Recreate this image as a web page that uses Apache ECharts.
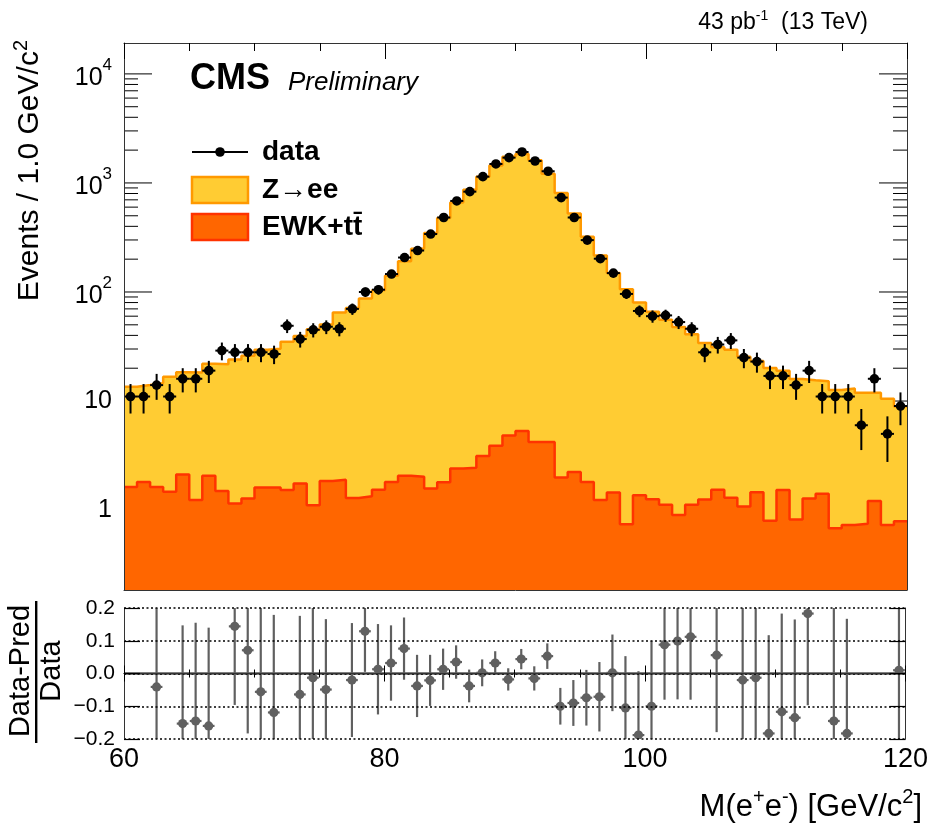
<!DOCTYPE html>
<html><head><meta charset="utf-8">
<script src="https://cdn.jsdelivr.net/npm/echarts@6/dist/echarts.min.js"></script>
<style>html,body{margin:0;padding:0;background:#fff}#c{width:931px;height:825px}</style>
</head><body><div id="c"></div><script>
// ---- data (bin low edges, 1 GeV bins) ----
const binLow = [60,61,62,63,64,65,66,67,68,69,70,71,72,73,74,75,76,77,78,79,80,81,82,83,84,85,86,87,88,89,90,91,92,93,94,95,96,97,98,99,100,101,102,103,104,105,106,107,108,109,110,111,112,113,114,115,116,117,118,119];
const dataCounts = [11,11,14,11,16,16,19,29,28,28,28,27,49,37,45,48,46,70,100,105,146,207,240,340,482,684,832,1142,1493,1705,1923,1589,1280,734,482,299,202,149,96,67,60,61,53,46,28,33,36,25,23,17,17,14,19,11,11,11,6,16,5,9];
const zeePred = [11.87,12.19,12.97,15.23,16.28,17.06,19.94,20.3,22.85,24.72,27.99,28.59,33.47,37.65,44.49,48.55,63.1,70.11,85.66,102.06,139.19,188.94,246.98,345.42,474.2,657.59,861.56,1136.87,1441.1,1731.16,1832.7,1608.79,1207.79,805.01,522.76,319.19,214.76,147.55,105.26,78.63,64.74,54.48,46.9,39.78,32.75,29.66,28.2,24.42,21.84,19.3,17.47,15.08,14.22,13.79,11.92,12.27,11.15,10.69,9.77,8.11];
const ewkPred = [1.63,1.81,1.63,1.47,2.12,1.24,2.06,1.50,1.15,1.28,1.61,1.61,1.53,1.75,1.11,1.85,1.90,1.29,1.34,1.54,1.81,2.06,2.02,1.58,1.80,2.41,2.44,3.13,3.9,4.84,5.3,4.21,4.21,1.99,2.24,1.81,1.24,1.45,0.74,1.37,1.26,1.12,0.90,1.12,1.25,1.54,1.30,1.08,1.46,0.80,1.53,0.82,1.28,1.41,0.68,0.73,0.75,1.21,0.73,0.79];
const ratioVals = [null,null,-0.041,null,-0.153,-0.145,-0.16,null,0.144,0.071,-0.056,-0.119,null,-0.064,-0.013,-0.049,null,-0.020,0.129,0.013,0.032,0.076,-0.038,-0.021,0.013,0.035,-0.038,0.002,0.032,-0.018,0.044,-0.015,0.053,-0.100,-0.090,-0.074,-0.071,0.002,-0.105,-0.188,-0.100,0.088,0.099,0.112,null,0.056,null,-0.020,-0.013,-0.183,-0.117,-0.135,0.183,null,-0.145,-0.183,null,null,null,0.010];
const ratioErr = [0,0,0.3,0,0.3,0.3,0.3,0,0.24,0.254,0.27,0.298,0,0.24,0.23,0.215,0,0.174,0.124,0.138,0.115,0.095,0.095,0.078,0.063,0.051,0.05,0.041,0.036,0.034,0.031,0.037,0.039,0.056,0.07,0.085,0.106,0.117,0.158,0.195,0.2,0.168,0.178,0.192,0,0.235,0,0.25,0.25,0.3,0.3,0.3,0.28,0,0.35,0.35,0,0,0,0.35];
const yMajorTicks = [1,10,100,1000,10000];
const yMinorTicks = [];
[0.1,1,10,100,1000].forEach(d=>{for(let k=2;k<=9;k++){const v=k*d; if(v>0.19) yMinorTicks.push(+v.toPrecision(3));}});

const FONT = '"Liberation Sans", Arial, Helvetica, sans-serif';
const C_ZEE = '#FFCC33', C_ZEE_L = '#FF9900', C_EWK = '#FF6600', C_EWK_L = '#FF3300', C_RATIO = '#606060';

const total = zeePred.map((z,i)=>z+ewkPred[i]);
const stepData = vals => binLow.map((x,i)=>[x, vals[i]]).concat([[binLow[binLow.length-1]+1, vals[vals.length-1]]]);

const chart = echarts.init(document.getElementById('c'), null, {renderer:'canvas'});

const tickItems = yMajorTicks.map(v=>[v,1]).concat(yMinorTicks.map(v=>[v,0]));

const xBase = {type:'value', min:60, max:120, interval:20, splitLine:{show:false}, z:10,
  axisLine:{show:true, lineStyle:{color:'#333', width:1}}};

const option = {
  animation:false,
  grid:[{left:124, right:24, top:43, height:547},{left:124, right:24, top:608, height:131}],
  xAxis:[
    Object.assign({}, xBase, {gridIndex:0, position:'top', axisLabel:{show:false},
      axisTick:{show:true, inside:true, length:16, lineStyle:{color:'#000'}},
      minorTick:{show:true, splitNumber:4, length:8, lineStyle:{color:'#000'}}}),
    Object.assign({}, xBase, {gridIndex:0, position:'bottom', axisLabel:{show:false}, axisTick:{show:false}}),
    Object.assign({}, xBase, {gridIndex:1, position:'bottom',
      axisLabel:{show:true, fontFamily:FONT, fontSize:27, color:'#000', margin:7},
      axisTick:{show:true, inside:true, length:8, lineStyle:{color:'#000'}},
      minorTick:{show:true, splitNumber:4, length:4, lineStyle:{color:'#000'}}}),
    Object.assign({}, xBase, {gridIndex:1, position:'top', axisLabel:{show:false},
      axisTick:{show:true, inside:true, length:8, lineStyle:{color:'#000'}},
      minorTick:{show:true, splitNumber:4, length:4, lineStyle:{color:'#000'}}})
  ],
  yAxis:[
    {type:'log', gridIndex:0, min:0.185, max:19200, position:'left', z:10,
      axisLine:{show:true, lineStyle:{color:'#333'}}, axisTick:{show:false}, splitLine:{show:false},
      axisLabel:{show:true, showMinLabel:false, showMaxLabel:false, margin:12, fontFamily:FONT, fontSize:25, color:'#000',
        formatter: v => { const e = Math.round(Math.log10(v)); if (e===0) return '1'; if (e===1) return '10'; return '{b|10}{s|'+e+'}'; },
        rich:{b:{fontFamily:FONT, fontSize:25, color:'#000', lineHeight:34, verticalAlign:'bottom'},
              s:{fontFamily:FONT, fontSize:17, color:'#000', lineHeight:34, verticalAlign:'top'}}}},
    {type:'log', gridIndex:0, min:0.185, max:19200, position:'right', z:10,
      axisLine:{show:true, lineStyle:{color:'#333'}}, axisTick:{show:false}, axisLabel:{show:false}, splitLine:{show:false}},
    {type:'value', gridIndex:1, min:-0.2, max:0.2, interval:0.1, position:'left', z:10,
      axisLine:{show:true, lineStyle:{color:'#333'}},
      axisTick:{show:true, inside:true, length:16, lineStyle:{color:'#000', width:1.2}},
      axisLabel:{show:true, margin:9, fontFamily:FONT, fontSize:21, color:'#000',
        formatter: v => (v < -1e-9 ? '\u2212' : '') + Math.abs(v).toFixed(1)},
      splitLine:{show:true, lineStyle:{color:'#000', width:1.5, type:[2,2.5]}}},
    {type:'value', gridIndex:1, min:-0.2, max:0.2, interval:0.1, position:'right', z:10,
      axisLine:{show:true, lineStyle:{color:'#333'}},
      axisTick:{show:true, inside:true, length:16, lineStyle:{color:'#000', width:1.2}},
      axisLabel:{show:false}, splitLine:{show:false}}
  ],
  series:[
    {type:'custom', name:'yticks', xAxisIndex:0, yAxisIndex:0, z:1, silent:true, clip:false,
      data: tickItems,
      renderItem:(params, api)=>{
        const v = api.value(0), major = api.value(1)===1;
        const pL = api.coord([60, v]), pR = api.coord([120, v]);
        const len = major ? 28 : 14;
        return {type:'group', children:[
          {type:'line', shape:{x1:pL[0], y1:pL[1], x2:pL[0]+len, y2:pL[1]}, style:{stroke:'#000', lineWidth:1}},
          {type:'line', shape:{x1:pR[0]-len, y1:pR[1], x2:pR[0], y2:pR[1]}, style:{stroke:'#000', lineWidth:1}}
        ]};
      }},
    {type:'line', name:'Z\u2192ee', xAxisIndex:0, yAxisIndex:0, z:2, step:'end', symbol:'none',
      data: stepData(total), lineStyle:{color:C_ZEE_L, width:2.5}, areaStyle:{color:C_ZEE, opacity:1}},
    {type:'line', name:'EWK+tt', xAxisIndex:0, yAxisIndex:0, z:3, step:'end', symbol:'none',
      data: stepData(ewkPred), lineStyle:{color:C_EWK_L, width:2.5}, areaStyle:{color:C_EWK, opacity:1}},
    {type:'custom', name:'data', xAxisIndex:0, yAxisIndex:0, z:5,
      data: dataCounts.map((n,i)=>[binLow[i]+0.5, n, Math.sqrt(n)]),
      renderItem:(params, api)=>{
        const x = api.value(0), n = api.value(1), e = api.value(2);
        const c = api.coord([x, n]);
        const t = api.coord([x, n+e]), b = api.coord([x, Math.max(n-e, 0.19)]);
        const l = api.coord([x-0.5, n]), r = api.coord([x+0.5, n]);
        return {type:'group', children:[
          {type:'line', shape:{x1:c[0], y1:t[1], x2:c[0], y2:b[1]}, style:{stroke:'#000', lineWidth:2}},
          {type:'line', shape:{x1:l[0], y1:c[1], x2:r[0], y2:c[1]}, style:{stroke:'#000', lineWidth:2}},
          {type:'circle', shape:{cx:c[0], cy:c[1], r:4.8}, style:{fill:'#000'}}
        ]};
      }},
    {type:'line', name:'zero', xAxisIndex:2, yAxisIndex:2, z:3, symbol:'none', silent:true,
      data:[[60,0],[120,0]], lineStyle:{color:'#000', width:2.2}},
    {type:'custom', name:'ratio', xAxisIndex:2, yAxisIndex:2, z:5, clip:true,
      data: ratioVals.map((r,i)=>[binLow[i]+0.5, r, ratioErr[i]]).filter(d=>d[1]!==null),
      renderItem:(params, api)=>{
        const x = api.value(0), r = api.value(1), e = api.value(2);
        const c = api.coord([x, r]);
        const t = api.coord([x, r+e]), b = api.coord([x, r-e]);
        const l = api.coord([x-0.45, r]), rr = api.coord([x+0.45, r]);
        return {type:'group', children:[
          {type:'line', shape:{x1:c[0], y1:t[1], x2:c[0], y2:b[1]}, style:{stroke:C_RATIO, lineWidth:2.2}},
          {type:'line', shape:{x1:l[0], y1:c[1], x2:rr[0], y2:c[1]}, style:{stroke:C_RATIO, lineWidth:2.2}},
          {type:'circle', shape:{cx:c[0], cy:c[1], r:4.6}, style:{fill:C_RATIO}}
        ]};
      }}
  ],
  graphic:[
    {type:'text', x:190, y:79, style:{text:'CMS', font:'bold 36px '+FONT, fill:'#000', verticalAlign:'middle'}},
    {type:'text', x:288, y:83, style:{text:'Preliminary', font:'italic 26px '+FONT, fill:'#000', verticalAlign:'middle'}},
    {type:'text', x:868, y:23, style:{text:'43 pb{s|-1}  (13 TeV)', font:'23px '+FONT, fill:'#000', align:'right', verticalAlign:'middle',
      rich:{s:{font:'14px '+FONT, fill:'#000', verticalAlign:'top', lineHeight:28}}}},
    // legend
    {type:'line', shape:{x1:192, y1:152, x2:248, y2:152}, style:{stroke:'#000', lineWidth:2}},
    {type:'circle', shape:{cx:220, cy:152, r:4.8}, style:{fill:'#000'}},
    {type:'rect', shape:{x:192, y:177, width:56, height:26}, style:{fill:C_ZEE, stroke:C_ZEE_L, lineWidth:2.5}},
    {type:'rect', shape:{x:192, y:214, width:56, height:26}, style:{fill:C_EWK, stroke:C_EWK_L, lineWidth:2.5}},
    {type:'text', x:262, y:152, style:{text:'data', font:'bold 28px '+FONT, fill:'#000', verticalAlign:'middle'}},
    {type:'text', x:262, y:190, style:{text:'Z\u2192ee', font:'bold 28px '+FONT, fill:'#000', verticalAlign:'middle'}},
    {type:'text', x:262, y:227, style:{text:'EWK+tt\u0304', font:'bold 28px '+FONT, fill:'#000', verticalAlign:'middle'}},
    // axis titles
    {type:'text', x:30, y:40, rotation:Math.PI/2, style:{text:'Events / 1.0 GeV/c{s|2}', font:'30px '+FONT, fill:'#000', align:'right', verticalAlign:'middle',
      rich:{s:{font:'20px '+FONT, fill:'#000', verticalAlign:'top', lineHeight:38}}}},
    {type:'text', x:21, y:671, rotation:Math.PI/2, style:{text:'Data-Pred', font:'29px '+FONT, fill:'#000', align:'center', verticalAlign:'middle'}},
    {type:'rect', shape:{x:35, y:601, width:2.4, height:142}, style:{fill:'#000'}},
    {type:'text', x:52, y:671, rotation:Math.PI/2, style:{text:'Data', font:'29px '+FONT, fill:'#000', align:'center', verticalAlign:'middle'}},
    {type:'text', x:922, y:807, style:{text:'M(e{s|+}e{s|-}) [GeV/c{s|2}]', font:'31px '+FONT, fill:'#000', align:'right', verticalAlign:'middle',
      rich:{s:{font:'20px '+FONT, fill:'#000', verticalAlign:'top', lineHeight:40}}}}
  ]
};
chart.setOption(option);
</script></body></html>
